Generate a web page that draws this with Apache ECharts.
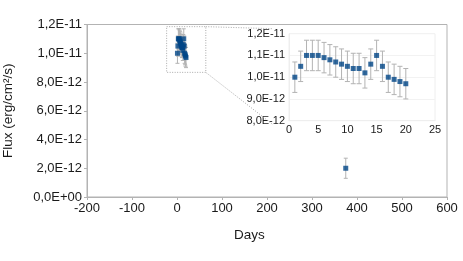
<!DOCTYPE html>
<html><head><meta charset="utf-8">
<script src="https://cdn.jsdelivr.net/npm/echarts@6/dist/echarts.min.js"></script>
<style>html,body{margin:0;padding:0;background:#fff}#c{width:463px;height:261px}</style>
</head><body><div id="c"></div>
<script>
const days = [1,2,3,4,5,6,7,8,9,10,11,12,13,14,15,16,17,18,19,20,375];
const flux = [1.00e-11,1.05e-11,1.10e-11,1.10e-11,1.10e-11,1.09e-11,1.08e-11,1.07e-11,1.06e-11,1.05e-11,1.04e-11,1.04e-11,1.02e-11,1.06e-11,1.10e-11,1.05e-11,1.00e-11,0.99e-11,0.98e-11,0.97e-11,2.0e-12];
const fluxErr = [0.7e-12,0.7e-12,0.7e-12,0.7e-12,0.7e-12,0.7e-12,0.7e-12,0.7e-12,0.7e-12,0.7e-12,0.7e-12,0.7e-12,0.7e-12,0.7e-12,0.7e-12,0.7e-12,0.7e-12,0.7e-12,0.7e-12,0.7e-12,0.7e-12];
const xTitle = 'Days';
const yTitle = 'Flux (erg/cm²/s)';
const insetMaxDay = 25;

function sci(v){
  let s = Number(v).toExponential(1);
  let [m,e] = s.split('e');
  let sign = e[0]==='-'?'-':'+';
  let d = e.replace(/^[+-]/,'');
  if (d.length<2) d='0'+d;
  return m.replace('.',',')+'E'+sign+d;
}
const pts = days.map((d,i)=>[d,flux[i],fluxErr[i]]);
const insetPts = pts.filter(p=>p[0]<=insetMaxDay);

const FONT = 'Liberation Sans';
const TXT = '#1a1a1a';
function errRender(cap){
  return function(params, api){
    const x = api.value(0), y = api.value(1), e = api.value(2);
    const hi = api.coord([x,y+e]), lo = api.coord([x,y-e]);
    const st = {stroke:'#b3b3b3', lineWidth:1};
    return {type:'group', children:[
      {type:'line', shape:{x1:hi[0],y1:hi[1],x2:lo[0],y2:lo[1]}, style:st},
      {type:'line', shape:{x1:hi[0]-cap,y1:hi[1],x2:hi[0]+cap,y2:hi[1]}, style:st},
      {type:'line', shape:{x1:lo[0]-cap,y1:lo[1],x2:lo[0]+cap,y2:lo[1]}, style:st}
    ]};
  };
}
const chart = echarts.init(document.getElementById('c'), null, {renderer:'canvas'});
const opt = {
  animation:false,
  backgroundColor:'#fff',
  textStyle:{fontFamily:FONT},
  title:{text:xTitle, left:229, top:223, textStyle:{fontFamily:FONT,fontSize:13.5,fontWeight:'normal',color:TXT}},
  grid:[
    {left:87, top:24.5, width:360, height:172.5, show:true, borderColor:'#b3b3b3', borderWidth:1, backgroundColor:'transparent', containLabel:false, outerBoundsMode:'none'},
    {left:289, top:33.7, width:146, height:87, show:true, borderColor:'#eeeeee', borderWidth:1, backgroundColor:'transparent', containLabel:false, outerBoundsMode:'none'}
  ],
  xAxis:[
    {gridIndex:0, type:'value', min:-200, max:600, interval:100,
     axisLine:{onZero:false,lineStyle:{color:'#b3b3b3'}}, axisTick:{length:3,lineStyle:{color:'#b3b3b3'}},
     splitLine:{show:false},
     axisLabel:{color:TXT, fontSize:13, fontFamily:FONT, margin:5}},
    {gridIndex:1, type:'value', min:0, max:25, interval:5,
     axisLine:{onZero:false,lineStyle:{color:'#eeeeee'}}, axisTick:{show:false},
     splitLine:{show:false},
     axisLabel:{color:TXT, fontSize:11, fontFamily:FONT, margin:4}}
  ],
  yAxis:[
    {gridIndex:0, type:'value', min:0, max:1.2e-11, interval:2e-12,
     name:yTitle, nameLocation:'middle', nameGap:72,
     nameTextStyle:{color:TXT, fontSize:13.5, fontFamily:FONT},
     axisLine:{show:true,onZero:false,lineStyle:{color:'#b3b3b3'}}, axisTick:{show:true,length:3,lineStyle:{color:'#b3b3b3'}},
     splitLine:{show:false},
     axisLabel:{color:TXT, fontSize:13, fontFamily:FONT, margin:5, formatter:sci}},
    {gridIndex:1, type:'value', min:8e-12, max:1.2e-11, interval:1e-12,
     axisLine:{show:true,onZero:false,lineStyle:{color:'#eeeeee'}}, axisTick:{show:false},
     splitLine:{show:true,lineStyle:{color:'#f2f2f2'}},
     axisLabel:{color:TXT, fontSize:11, fontFamily:FONT, margin:4, formatter:sci}}
  ],
  series:[
    {type:'custom', xAxisIndex:0, yAxisIndex:0, data:pts, renderItem:errRender(2), encode:{x:0,y:1}, z:2},
    {type:'scatter', xAxisIndex:0, yAxisIndex:0, data:pts.map(p=>[p[0],p[1]]), symbol:'rect', symbolSize:5, itemStyle:{color:'#004586'}, z:3},
    {type:'custom', xAxisIndex:1, yAxisIndex:1, data:insetPts, renderItem:errRender(2.5), encode:{x:0,y:1}, z:2},
    {type:'scatter', xAxisIndex:1, yAxisIndex:1, data:insetPts.map(p=>[p[0],p[1]]), symbol:'rect', symbolSize:5, itemStyle:{color:'#004586'}, z:3}
  ]
};
chart.setOption(opt);
// zoom box and connector lines
const bTL = chart.convertToPixel({gridIndex:0}, [-23, 1.185e-11]);
const bBR = chart.convertToPixel({gridIndex:0}, [64, 0.867e-11]);
const iTL = chart.convertToPixel({gridIndex:1}, [0, 1.2e-11]);
const iBL = chart.convertToPixel({gridIndex:1}, [0, 8e-12]);
const dash = {stroke:'#aaaaaa', lineWidth:1, lineDash:[1,1.5], fill:null};
chart.setOption({graphic:[
  {type:'rect', shape:{x:bTL[0],y:bTL[1],width:bBR[0]-bTL[0],height:bBR[1]-bTL[1]}, style:dash, z:1},
  {type:'line', shape:{x1:bBR[0],y1:bTL[1],x2:iTL[0]-16,y2:iTL[1]-5}, style:dash, z:1},
  {type:'line', shape:{x1:bBR[0],y1:bBR[1],x2:iBL[0]-16,y2:iBL[1]+4}, style:dash, z:1}
]});
</script></body></html>
